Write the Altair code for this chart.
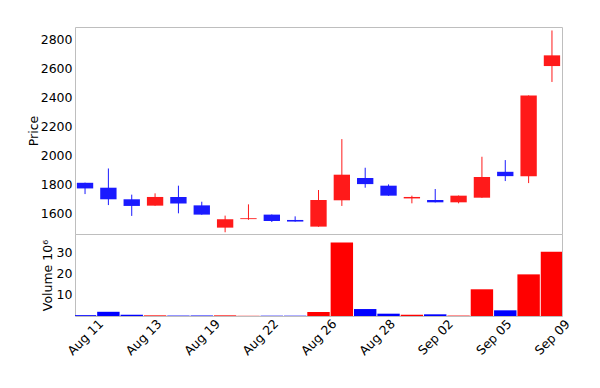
import altair as alt
import pandas as pd

# ---- data ----
opens  = [1811, 1777, 1697, 1653, 1713, 1655, 1501, 1560, 1591, 1554, 1508,
          1690, 1844, 1791, 1703, 1692, 1676, 1708, 1887, 1857, 2618]
closes = [1772, 1697, 1651, 1713, 1667, 1591, 1559, 1566, 1547, 1543, 1692,
          1867, 1802, 1722, 1713, 1676, 1722, 1851, 1857, 2414, 2692]
highs  = [1812, 1910, 1729, 1738, 1791, 1680, 1584, 1662, 1592, 1579, 1761,
          2113, 1915, 1800, 1722, 1768, 1723, 1991, 1968, 2415, 2864]
lows   = [1733, 1657, 1582, 1652, 1600, 1590, 1469, 1555, 1540, 1542, 1507,
          1651, 1777, 1721, 1669, 1675, 1669, 1707, 1823, 1809, 2508]
volumes = [0.4, 2.0, 0.6, 0.3, 0.2, 0.2, 0.3, 0.1, 0.15, 0.15, 1.9,
           35.0, 3.3, 1.1, 0.6, 0.8, 0.2, 12.7, 2.7, 19.8, 30.6]

tick_values = [0, 2.5, 5, 7.5, 10, 12.5, 15, 17.5, 20]
tick_labels = ["Aug 11", "Aug 13", "Aug 19", "Aug 22", "Aug 26",
               "Aug 28", "Sep 02", "Sep 05", "Sep 09"]

price_ticks = [1600, 1800, 2000, 2200, 2400, 2600, 2800]
volume_ticks = [10, 20, 30]

df = pd.DataFrame({
    "idx": list(range(len(opens))),
    "open": opens, "close": closes, "high": highs, "low": lows,
    "volume": volumes,
})

label_expr = "".join(
    f"datum.value == {v} ? '{t}' : " for v, t in zip(tick_values, tick_labels)
) + "''"

x_dom = [-0.43, 20.43]
FONT = "DejaVu Sans"

base = alt.Chart(df).transform_calculate(
    dir="datum.close >= datum.open ? 'up' : 'down'",
    vdir="datum.close >= datum.open ? 'vup' : 'vdown'",
    lo="min(datum.open, datum.close)",
    hi="max(datum.open, datum.close)",
    bl="datum.idx - 0.35",
    br="datum.idx + 0.35",
    vl="datum.idx - 0.48",
    vr="datum.idx + 0.48",
)

xs = alt.Scale(domain=x_dom, nice=False, zero=False)
ys = alt.Scale(domain=[1457, 2888], nice=False, zero=False)
price_axis = alt.Axis(values=price_ticks, format="d", title="Price",
                      titlePadding=0, labelPadding=3, labelOverlap=False)
candle_color = alt.Color("dir:N", scale=alt.Scale(domain=["up", "down"],
                                                   range=["#ff1a1a", "#1a1aff"]),
                         legend=None)

wicks = base.mark_rule(strokeWidth=1, clip=True).encode(
    x=alt.X("idx:Q", scale=xs, axis=None),
    y=alt.Y("low:Q", scale=ys, axis=price_axis),
    y2="high:Q",
    color=candle_color,
)
bodies = base.mark_bar(clip=True).encode(
    x=alt.X("bl:Q", scale=xs, axis=None),
    x2="br:Q",
    y=alt.Y("lo:Q", scale=ys, axis=price_axis),
    y2="hi:Q",
    color=candle_color,
)
price = alt.layer(wicks, bodies).properties(width=487, height=207)

vol = base.mark_bar(clip=True).encode(
    x=alt.X("vl:Q", scale=xs,
            axis=alt.Axis(values=tick_values, labelExpr=label_expr, labelAngle=-45,
                          labelAlign="center", labelBaseline="middle",
                          labelPadding=21, labelOverlap=False, labelFlush=False,
                          labelBound=False, title=None)),
    x2="vr:Q",
    y=alt.Y("volume:Q", scale=alt.Scale(domain=[0, 39], nice=False),
            axis=alt.Axis(values=volume_ticks, format="d", title="Volume 10⁶",
                          titlePadding=2, labelPadding=3, labelOverlap=False)),
    y2=alt.datum(0),
    color=alt.Color("vdir:N", scale=alt.Scale(domain=["vup", "vdown"],
                                              range=["#ff0000", "#0000ff"]),
                    legend=None),
).properties(width=487, height=82)

chart = alt.vconcat(price, vol, spacing=0, bounds="flush").resolve_scale(
    color="independent"
).properties(
    padding={"left": 18, "top": 18, "right": 5, "bottom": 5},
    background="white",
).configure_view(
    stroke="#bebebe", strokeWidth=1
).configure_axis(
    labelFont=FONT, labelFontSize=12.5, labelColor="black",
    titleFont=FONT, titleFontSize=12.5, titleFontWeight="normal", titleColor="black",
    domain=False, ticks=False, grid=False,
)

chart.save("out.html", embed_options={"renderer": "svg", "actions": False})
